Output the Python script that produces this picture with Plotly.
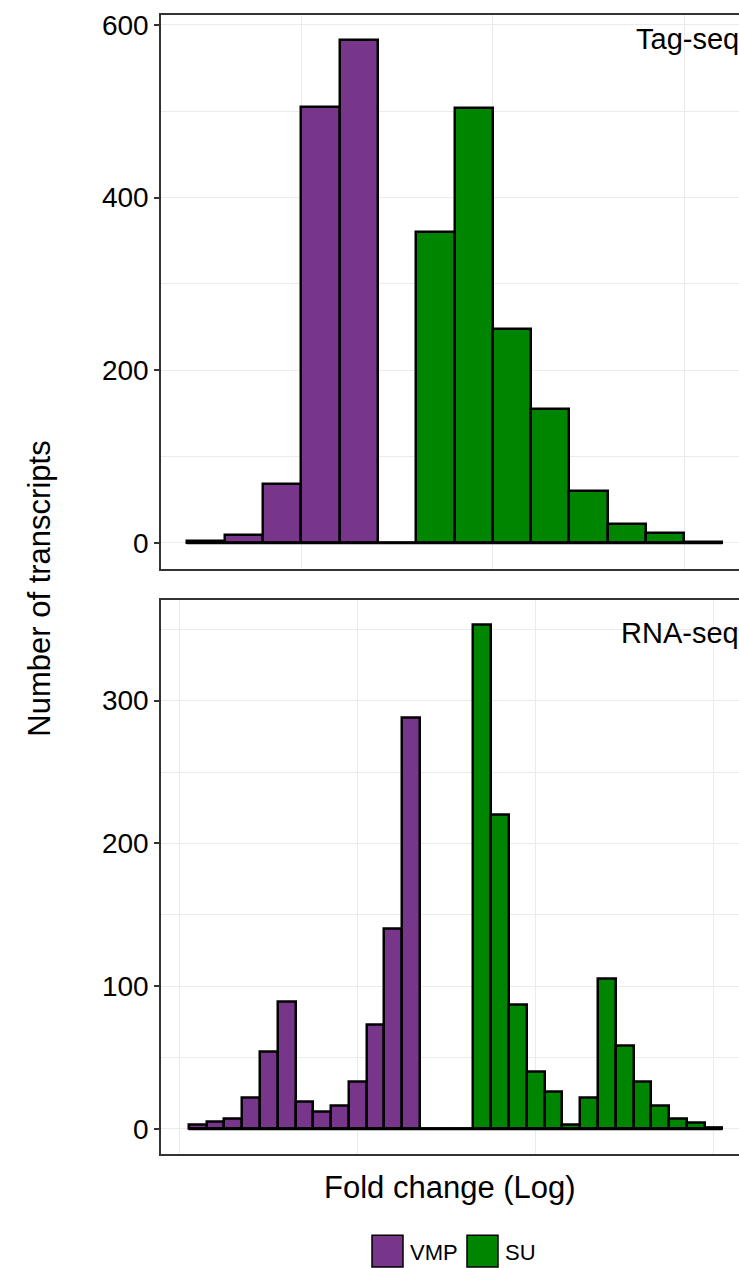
import plotly.graph_objects as go
from plotly.subplots import make_subplots

# ---- data: histogram bin counts of fold change (log) ----
tag_bins = list(range(1, 15))
tag_counts = [2, 9, 68, 505, 583, 0, 360, 504, 248, 155, 60, 22, 11, 1]
tag_groups = ["VMP"] * 6 + ["SU"] * 8

rna_bins = list(range(1, 31))
rna_counts = [3, 5, 7, 22, 54, 89, 19, 12, 16, 33, 73, 140, 288, 0, 0,
              0, 353, 220, 87, 40, 26, 3, 22, 105, 58, 33, 16, 7, 4, 1]
rna_groups = ["VMP"] * 15 + ["SU"] * 15

group_order = ["VMP", "SU"]
group_colors = {"VMP": "#77368A", "SU": "#008500"}
panel_labels = ["Tag-seq", "RNA-seq"]

W, H = 739, 1268
FONT = "Liberation Sans, Arial, Helvetica, sans-serif"
BORDER = "#333333"
GRID = "#EBEBEB"


def px(x):
    return x / W


def py(y):
    return 1 - y / H


fig = make_subplots(rows=2, cols=1)

panels = [
    (tag_bins, tag_counts, tag_groups, 1),
    (rna_bins, rna_counts, rna_groups, 2),
]
for bins, counts, groups, row in panels:
    for g in group_order:
        xs = [b for b, gg in zip(bins, groups) if gg == g]
        ys = [c for c, gg in zip(counts, groups) if gg == g]
        fig.add_trace(
            go.Bar(x=xs, y=ys, width=1, name=g,
                   marker=dict(color=group_colors[g],
                               line=dict(color="black", width=2.5)),
                   showlegend=False),
            row=row, col=1)
    # outline of empty / near-empty bins along the baseline
    fig.add_trace(
        go.Scatter(x=[bins[0] - 0.5, bins[-1] + 0.5], y=[0, 0],
                   mode="lines", line=dict(color="black", width=3),
                   hoverinfo="skip", showlegend=False),
        row=row, col=1)

fig.update_layout(
    width=W, height=H, autosize=False,
    margin=dict(l=0, r=0, t=0, b=0),
    paper_bgcolor="white", plot_bgcolor="white",
    barmode="overlay", bargap=0,
    font=dict(family=FONT, color="black"),
)

axis_common = dict(
    showline=True, linecolor=BORDER, linewidth=1.5,
    showgrid=True, gridcolor=GRID, gridwidth=1.2, zeroline=False,
)
y_ticks = dict(ticks="outside", ticklen=5, tickwidth=1.5, tickcolor=BORDER,
               tickfont=dict(size=28, color="black"))

fig.update_layout(
    xaxis=dict(domain=[px(161), 1], range=[-0.169, 14.934],
               tickmode="array", tickvals=[3.5, 8.5, 13.5], ticks="",
               showticklabels=False, mirror=True, **axis_common),
    yaxis=dict(domain=[py(566), py(10)], range=[-30.0, 611.5],
               tickmode="array", tickvals=[0, 200, 400, 600],
               minor=dict(tickvals=[100, 300, 500], showgrid=True,
                          gridcolor=GRID, gridwidth=0.6, ticks=""),
               **y_ticks, **axis_common),
    xaxis2=dict(domain=[px(161), 1], range=[-1.063, 31.43],
                tickmode="array", tickvals=[0, 10, 20, 30], ticks="",
                showticklabels=False, mirror=True, **axis_common),
    yaxis2=dict(domain=[py(1153.5), py(597)], range=[-17.6, 370.8],
                tickmode="array", tickvals=[0, 100, 200, 300],
                minor=dict(tickvals=[50, 150, 250, 350], showgrid=True,
                           gridcolor=GRID, gridwidth=0.6, ticks=""),
                **y_ticks, **axis_common),
)

annotations = []
# facet labels in the top-right corner of each panel
for label, ytop in zip(panel_labels, [16, 612]):
    annotations.append(dict(text=label, xref="paper", yref="paper",
                            x=px(741), y=py(ytop), xanchor="right",
                            yanchor="top", showarrow=False,
                            font=dict(size=29, color="black")))
# axis titles
annotations.append(dict(text="Number of transcripts", xref="paper",
                        yref="paper", x=px(40), y=py(586), textangle=-90,
                        xanchor="center", yanchor="middle", showarrow=False,
                        font=dict(size=31, color="black")))
annotations.append(dict(text="Fold change (Log)", xref="paper", yref="paper",
                        x=px(450), y=py(1187), xanchor="center",
                        yanchor="middle", showarrow=False,
                        font=dict(size=31, color="black")))

# legend drawn below the panels
shapes = []
legend_items = [("VMP", 372, 410), ("SU", 467, 505)]
for g, kx, tx in legend_items:
    shapes.append(dict(type="rect", xref="paper", yref="paper",
                       x0=px(kx), x1=px(kx + 31), y0=py(1267), y1=py(1235),
                       fillcolor=group_colors[g],
                       line=dict(color="black", width=1.5)))
    annotations.append(dict(text=g, xref="paper", yref="paper",
                            x=px(tx - 2), y=py(1252), xanchor="left",
                            yanchor="middle", showarrow=False,
                            font=dict(size=22, color="black")))

fig.update_layout(annotations=annotations, shapes=shapes)

fig.write_html("out.html")
